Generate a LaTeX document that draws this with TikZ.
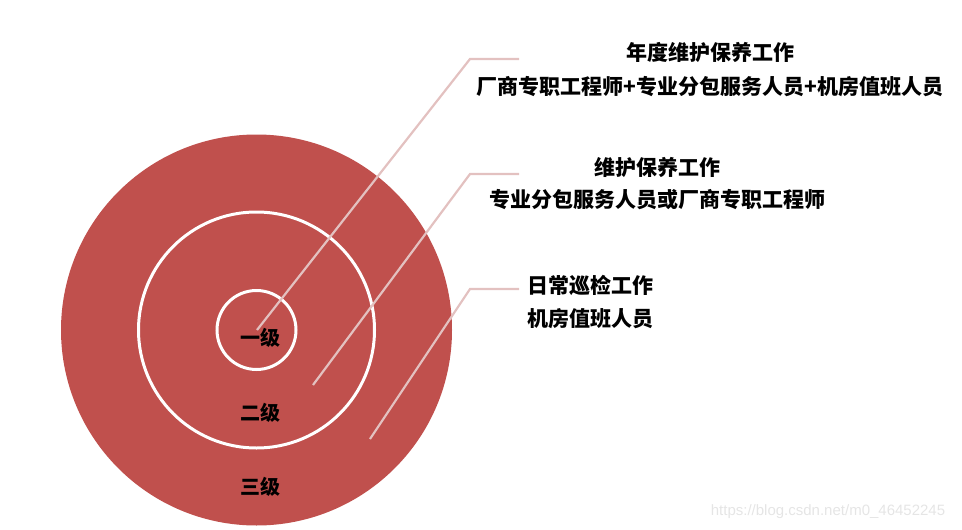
\documentclass[tikz,border=0pt]{standalone}
\usepackage{fontspec}
\newfontfamily\cjk{Noto Sans CJK SC}
\newfontfamily\wmfont{Liberation Sans}
\usetikzlibrary{positioning}
\definecolor{ringred}{HTML}{C0504D}
\definecolor{leaderpink}{HTML}{E3C1C0}

\begin{document}
\begin{tikzpicture}[
  x=1pt, y=-1pt,
  ring/.style={draw=white, line width=3pt},
  leader/.style={draw=leaderpink, line width=2.2pt},
  lvl/.style={font=\cjk\bfseries\fontsize{20}{24}\selectfont, inner sep=0pt},
  desc/.style={font=\cjk\bfseries\fontsize{21}{25}\selectfont, inner sep=0pt, align=center}
]
\useasboundingbox (0,0) rectangle (962,530);

% target rings
\fill[ringred] (256.5,330) circle[radius=195.5];
\draw[ring] (256.5,330) circle[radius=118];
\draw[ring] (256.5,330) circle[radius=39.5];

\node[lvl] (l1) at (260,338) {一级};
\node[lvl] (l2) at (260,413) {二级};
\node[lvl] (l3) at (260,487) {三级};

% leader lines
\coordinate (s1) at (257,330);
\coordinate (k1) at (470,59);
\coordinate (e1) at (519,59);
\coordinate (s2) at (313,385);
\coordinate (k2) at (470,174);
\coordinate (e2) at (519,174);
\coordinate (s3) at (370,439);
\coordinate (k3) at (470,289);
\coordinate (e3) at (519,289);
\draw[leader] (s1) -- (k1) -- (e1);
\draw[leader] (s2) -- (k2) -- (e2);
\draw[leader] (s3) -- (k3) -- (e3);

\node[desc] (d1a) at (710,52) {年度维护保养工作};
\node[desc] (d1b) at (710,87) {厂商专职工程师+专业分包服务人员+机房值班人员};
\node[desc] (d2a) at (657,167) {维护保养工作};
\node[desc] (d2b) at (657,200) {专业分包服务人员或厂商专职工程师};
\node[desc] (d3a) at (590,285) {日常巡检工作};
\node[desc] (d3b) at (590,319) {机房值班人员};

\node[font=\wmfont\fontsize{15}{18}\selectfont, text=black!10, inner sep=0pt] (wm) at (828,512) {https://blog.csdn.net/m0\_46452245};

\end{tikzpicture}
\end{document}
